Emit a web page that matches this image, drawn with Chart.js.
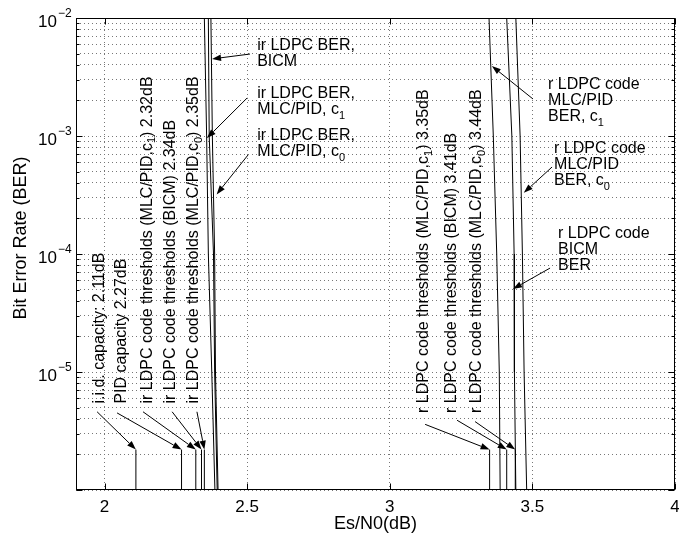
<!DOCTYPE html>
<html>
<head>
<meta charset="utf-8">
<script src="https://cdn.jsdelivr.net/npm/chart.js@4.4.1/dist/chart.umd.min.js"></script>
<style>
  html, body { margin: 0; padding: 0; background: #fff; }
  #berChart { display: block; }
</style>
</head>
<body>
<canvas id="berChart" width="679" height="541"></canvas>
<script>
// BER levels where each waterfall curve is sampled
const berLevels = [1e-2, 1e-3, 1e-4, 1e-5, 1e-6]

// irregular LDPC curves, Es/N0 (dB) at each BER level
const irBerC1 = [2.350, 2.358, 2.364, 2.376, 2.387]
const irBerBicm = [2.364, 2.367, 2.382, 2.386, 2.395]
const irBerC0 = [2.373, 2.378, 2.386, 2.389, 2.398]

// regular LDPC curves
const rBerC1 = [3.348, 3.363, 3.375, 3.384, 3.387]
const rBerBicm = [3.410, 3.428, 3.436, 3.437, 3.442]
const rBerC0 = [3.442, 3.457, 3.465, 3.471, 3.480]

// capacity limits and decoding thresholds (dB)
const capacityNames = ['i.i.d. capacity: ', 'PID capacity ']
const capacityValues = [2.11, 2.27]
const thresholdNames = ['(MLC/PID,c_1)', '(BICM)', '(MLC/PID,c_0)']
const irThresholds = [2.32, 2.34, 2.35]
const rThresholds = [3.35, 3.41, 3.44]
const thresholdMarkBer = 2.2e-6

// axes
const xMin = 1.9
const xMax = 4
const xTicks = [2, 2.5, 3, 3.5, 4]
const yDecades = [-6, -5, -4, -3, -2]
const yLabelDecades = [-5, -4, -3, -2]

const FONT = '"Liberation Sans", Arial, Helvetica, sans-serif'

function dB(v) { return v.toFixed(2) + 'dB' }

function curve(xs) {
  return xs.map((x, i) => ({ x: x, y: berLevels[i] }))
}

function marker(x) {
  return [{ x: x, y: Math.pow(10, yDecades[0]) }, { x: x, y: thresholdMarkBer }]
}

// grid values: 1..9 in every decade, plus the top decade
let yGrid = []
yDecades.slice(0, -1).forEach(e => {
  for (let m = 1; m < 10; m++) yGrid.push(m * Math.pow(10, e))
})
yGrid.push(Math.pow(10, yDecades[yDecades.length - 1]))

// vertical labels next to the threshold markers: [text, x(dB), start BER]
const sideLabels = [
  [capacityNames[0] + dB(capacityValues[0]), 1.984, 5.4e-6],
  [capacityNames[1] + dB(capacityValues[1]), 2.061, 5.4e-6],
  ['ir LDPC code thresholds ' + thresholdNames[0] + ' ' + dB(irThresholds[0]), 2.151, 5.4e-6],
  ['ir LDPC code thresholds ' + thresholdNames[1] + ' ' + dB(irThresholds[1]), 2.233, 5.4e-6],
  ['ir LDPC code thresholds ' + thresholdNames[2] + ' ' + dB(irThresholds[2]), 2.314, 5.4e-6],
  ['r LDPC code thresholds ' + thresholdNames[0] + ' ' + dB(rThresholds[0]), 3.120, 4.5e-6],
  ['r LDPC code thresholds ' + thresholdNames[1] + ' ' + dB(rThresholds[1]), 3.217, 4.5e-6],
  ['r LDPC code thresholds ' + thresholdNames[2] + ' ' + dB(rThresholds[2]), 3.306, 4.5e-6]
]

// curve captions: [lines, x(dB), first baseline BER]
const curveLabels = [
  [['ir LDPC BER,', 'BICM'], 2.535, 5.4e-3],
  [['ir LDPC BER,', 'MLC/PID, c_1'], 2.535, 2.1e-3],
  [['ir LDPC BER,', 'MLC/PID, c_0'], 2.535, 9.2e-4],
  [['r LDPC code', 'MLC/PID', 'BER, c_1'], 3.555, 2.5e-3],
  [['r LDPC code', 'MLC/PID', 'BER, c_0'], 3.576, 7.2e-4],
  [['r LDPC code', 'BICM', 'BER'], 3.590, 1.37e-4]
]

// arrows: [from x, from y, to x, to y]
const arrows = [
  [1.974, 4.6e-6, capacityValues[0], thresholdMarkBer],
  [2.044, 4.5e-6, capacityValues[1], thresholdMarkBer],
  [2.135, 4.6e-6, irThresholds[0], thresholdMarkBer],
  [2.237, 4.6e-6, irThresholds[1], thresholdMarkBer],
  [2.324, 4.6e-6, irThresholds[2], thresholdMarkBer],
  [3.124, 3.6e-6, rThresholds[0], thresholdMarkBer],
  [3.236, 3.9e-6, rThresholds[1], thresholdMarkBer],
  [3.299, 3.8e-6, rThresholds[2], thresholdMarkBer],
  [2.510, 4.95e-3, 2.377, 4.5e-3],
  [2.500, 2.1e-3, 2.359, 9.6e-4],
  [2.503, 6.9e-4, 2.393, 3.2e-4],
  [3.502, 2.06e-3, 3.358, 3.92e-3],
  [3.569, 5.46e-4, 3.470, 3.3e-4],
  [3.562, 7.6e-5, 3.432, 5.05e-5]
]

// text with "_x" meaning subscript x
function drawRich(ctx, text, size) {
  const parts = text.split(/_(\w)/)
  let x = 0
  parts.forEach((p, i) => {
    const sub = i % 2 === 1
    ctx.font = (sub ? Math.round(size * 0.7) : size) + 'px ' + FONT
    ctx.fillText(p, x, sub ? size * 0.3 : 0)
    x += ctx.measureText(p).width
  })
}

function drawArrow(ctx, x1, y1, x2, y2) {
  const a = Math.atan2(y2 - y1, x2 - x1)
  const len = 9, half = 3.2
  const bx = x2 - len * Math.cos(a), by = y2 - len * Math.sin(a)
  ctx.beginPath()
  ctx.moveTo(x1, y1)
  ctx.lineTo(bx, by)
  ctx.stroke()
  ctx.beginPath()
  ctx.moveTo(x2, y2)
  ctx.lineTo(bx + half * Math.sin(a), by - half * Math.cos(a))
  ctx.lineTo(bx - half * Math.sin(a), by + half * Math.cos(a))
  ctx.closePath()
  ctx.fill()
}

const axesPlugin = {
  id: 'axesPlugin',
  beforeDraw(chart) {
    const ctx = chart.ctx
    ctx.save()
    ctx.fillStyle = '#fff'
    ctx.fillRect(0, 0, chart.width, chart.height)
    ctx.restore()
  },
  afterDraw(chart) {
    const ctx = chart.ctx
    const area = chart.chartArea
    const xs = chart.scales.x, ys = chart.scales.y
    const px = v => xs.getPixelForValue(v)
    const py = v => ys.getPixelForValue(v)
    ctx.save()
    ctx.strokeStyle = '#000'
    ctx.fillStyle = '#000'
    ctx.lineWidth = 1

    // frame
    const L = Math.round(area.left) + 0.5, R = Math.round(area.right) - 0.5
    const T = Math.round(area.top) + 0.5, B = Math.round(area.bottom) - 0.5
    ctx.strokeRect(L, T, R - L, B - T)

    // inward tick marks
    ctx.beginPath()
    yGrid.forEach(v => {
      const y = Math.round(py(v)) + 0.5
      const len = Math.abs(Math.log10(v) - Math.round(Math.log10(v))) < 1e-9 ? 6 : 3
      ctx.moveTo(L, y); ctx.lineTo(L + len, y)
      ctx.moveTo(R, y); ctx.lineTo(R - len, y)
    })
    xTicks.forEach(v => {
      const x = Math.round(px(v)) + 0.5
      ctx.moveTo(x, B); ctx.lineTo(x, B - 6)
      ctx.moveTo(x, T); ctx.lineTo(x, T + 6)
    })
    ctx.stroke()

    // tick labels
    ctx.textBaseline = 'alphabetic'
    ctx.font = '17px ' + FONT
    ctx.textAlign = 'center'
    xTicks.forEach(v => ctx.fillText(String(v), px(v), area.bottom + 22))
    yLabelDecades.forEach(e => {
      const y = py(Math.pow(10, e))
      ctx.font = '17px ' + FONT
      ctx.textAlign = 'right'
      ctx.fillText('10', area.left - 19, y + 9)
      ctx.font = '12px ' + FONT
      ctx.textAlign = 'left'
      ctx.fillText('\u2212' + Math.abs(e), area.left - 18, y - 1)
    })

    // axis titles
    ctx.font = '18px ' + FONT
    ctx.textAlign = 'center'
    ctx.fillText('Es/N0(dB)', (area.left + area.right) / 2, area.bottom + 39)
    ctx.save()
    ctx.translate(26, 238)
    ctx.rotate(-Math.PI / 2)
    ctx.fillText('Bit Error Rate (BER)', 0, 0)
    ctx.restore()

    // vertical threshold labels
    ctx.textAlign = 'left'
    sideLabels.forEach(([text, x, y]) => {
      ctx.save()
      ctx.translate(px(x), py(y))
      ctx.rotate(-Math.PI / 2)
      ctx.textBaseline = 'middle'
      drawRich(ctx, text, 16)
      ctx.restore()
    })

    // curve captions
    ctx.textBaseline = 'alphabetic'
    curveLabels.forEach(([lines, x, y]) => {
      lines.forEach((line, i) => {
        ctx.save()
        ctx.translate(px(x), py(y) + i * 16)
        drawRich(ctx, line, 16)
        ctx.restore()
      })
    })

    // arrows
    arrows.forEach(([x1, y1, x2, y2]) => drawArrow(ctx, px(x1), py(y1), px(x2), py(y2)))
    ctx.restore()
  }
}

const lineStyle = { borderColor: '#000', borderWidth: 1, pointRadius: 0, showLine: true, fill: false, tension: 0 }

const datasets = [irBerC1, irBerBicm, irBerC0, rBerC1, rBerBicm, rBerC0]
  .map(xs => Object.assign({ data: curve(xs) }, lineStyle))
capacityValues.concat(irThresholds, rThresholds)
  .forEach(v => datasets.push(Object.assign({ data: marker(v) }, lineStyle)))

new Chart(document.getElementById('berChart'), {
  type: 'scatter',
  data: { datasets: datasets },
  options: {
    responsive: false,
    animation: false,
    devicePixelRatio: 1,
    layout: { padding: { top: 18, right: 4, left: 0, bottom: 0 } },
    plugins: { legend: { display: false }, tooltip: { enabled: false } },
    scales: {
      x: {
        type: 'linear',
        min: xMin,
        max: xMax,
        afterBuildTicks: axis => { axis.ticks = xTicks.map(v => ({ value: v })) },
        afterFit: axis => { axis.height = 51 },
        ticks: { display: false },
        grid: { color: '#777', lineWidth: 1, drawTicks: false },
        border: { display: false, dash: [1, 3] }
      },
      y: {
        type: 'logarithmic',
        min: Math.pow(10, yDecades[0]),
        max: Math.pow(10, yDecades[yDecades.length - 1]),
        afterBuildTicks: axis => { axis.ticks = yGrid.map(v => ({ value: v })) },
        afterFit: axis => { axis.width = 76 },
        ticks: { display: false },
        grid: { color: '#777', lineWidth: 1, drawTicks: false },
        border: { display: false, dash: [1, 3] }
      }
    }
  },
  plugins: [axesPlugin]
})
</script>
</body>
</html>
